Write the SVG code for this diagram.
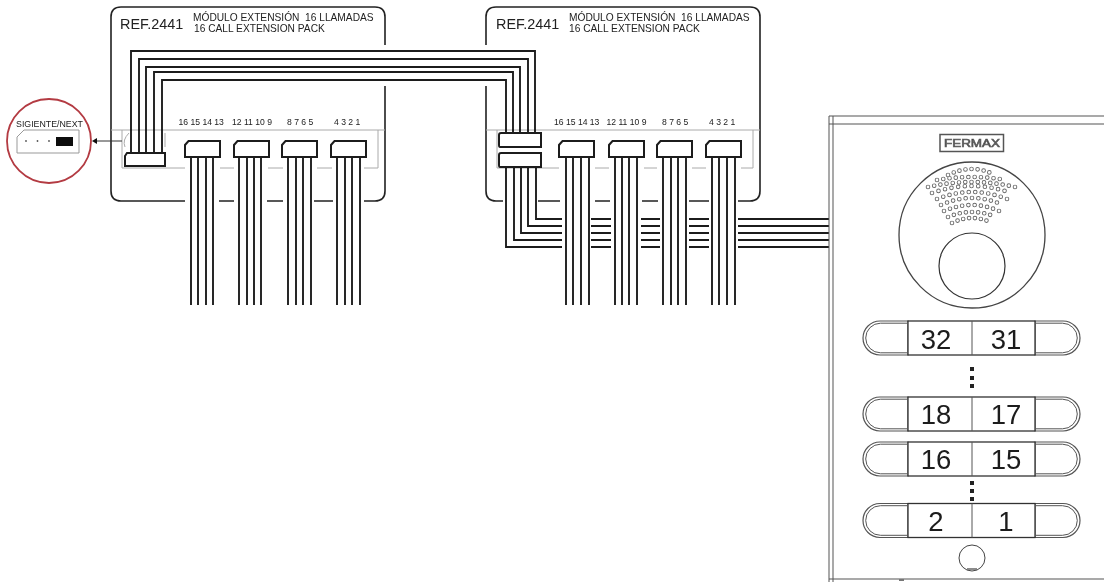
<svg xmlns="http://www.w3.org/2000/svg" width="1104" height="582" viewBox="0 0 1104 582">
<style>
text{font-family:"Liberation Sans",Arial,sans-serif;fill:#222;white-space:pre}
.o{fill:none;stroke:#222;stroke-width:1.6}
.g{fill:none;stroke:#aaa;stroke-width:1}
.w{fill:none;stroke:#1c1c1c;stroke-width:1.9}
.c{fill:#fff;stroke:#1c1c1c;stroke-width:2}
.p{fill:none;stroke:#555;stroke-width:1}
.ref{font-size:14.4px}.sub{font-size:10.2px}.n{font-size:8.6px}.b{font-size:27.5px;text-anchor:middle;fill:#1a1a1a}
.l{fill:#fff;stroke:#333;stroke-width:1.3}
.pill{fill:#fff;stroke:#555;stroke-width:1.2}
.pi{fill:none;stroke:#555;stroke-width:1}
.d{fill:#222}
</style>
<defs>
<filter id="s" x="0" y="0" width="1104" height="582" filterUnits="userSpaceOnUse"><feGaussianBlur stdDeviation="0.35"/></filter>
<path id="conn" d="M3.5 0H35V16H0V4Z"/>
<g id="btn">
<path class="pill" d="M45 0H17A17 17 0 0 0 17 34H45Z"/><path class="pi" d="M44 2.2H17.5A14.8 14.8 0 0 0 17.5 31.8H44"/>
<path class="pill" d="M172 0H200A17 17 0 0 1 200 34H172Z"/><path class="pi" d="M173 2.2H199.5A14.8 14.8 0 0 1 199.5 31.8H173"/>
<rect class="l" x="45" y="0" width="127" height="34"/><path class="p" d="M109 0V34"/>
</g>
<g id="gr">
<path d="M948 175Q972 163 995 175" pathLength="8"/>
<path d="M937 180Q972 174 1006 180" pathLength="11"/>
<path d="M928 187Q972 177 1015 187" pathLength="14"/>
<path d="M932 193Q972 179 1011 193" pathLength="12"/>
<path d="M937 199Q972 185 1007 199" pathLength="11"/>
<path d="M941 205Q972 191 1003 205" pathLength="10"/>
<path d="M944 211Q972 199 999 211" pathLength="9"/>
<path d="M948 217Q972 207 996 217" pathLength="8"/>
<path d="M952 223Q972 213 992 223" pathLength="7"/>
</g>
</defs>
<g filter="url(#s)">
<g id="module-left">
<path class="o" d="M111 45V17Q111 7 121 7H375Q385 7 385 17V45M385 86V191Q385 201 375 201H364M333 201H314M283 201H267M234 201H219M185 201H121Q111 201 111 191V45"/>
<path class="g" d="M111 130H385M122 130V168H185M220 168H234M268 168H283M317 168H332M364 168H378V130M125 147Q122 140 129 133M165 133V147"/>
<text class="ref" x="120" y="29">REF.2441</text>
<text class="sub" x="193" y="21">MÓDULO EXTENSIÓN  16 LLAMADAS</text>
<text class="sub" x="194" y="31.500">16 CALL EXTENSION PACK</text>
<text class="n" x="178.500" y="125">16 15 14 13</text><text class="n" x="232" y="125">12 11 10 9</text><text class="n" x="287" y="125">8 7 6 5</text><text class="n" x="334" y="125">4 3 2 1</text>
</g>
<g id="module-right">
<path class="o" d="M486 45V17Q486 7 496 7H750Q760 7 760 17V191Q760 201 750 201H738M709 201H689M658 201H642M610 201H595M560 201H538M503 201H496Q486 201 486 191V86"/>
<path class="g" d="M486 130H760M497 130V168H559M595 168H609M644 168H657M692 168H706M741 168H753V130"/>
<text class="ref" x="496" y="29">REF.2441</text>
<text class="sub" x="569" y="21">MÓDULO EXTENSIÓN  16 LLAMADAS</text>
<text class="sub" x="569" y="31.500">16 CALL EXTENSION PACK</text>
<text class="n" x="554" y="125">16 15 14 13</text><text class="n" x="606.500" y="125">12 11 10 9</text><text class="n" x="662" y="125">8 7 6 5</text><text class="n" x="709" y="125">4 3 2 1</text>
</g>
<g id="connectors">
<path class="w" d="M131 153V51H535V133M139 153V59H528V133M146 153V67H520V133M154 153V72H513V133M162 153V80H506V133"/>
<path class="w" d="M191 157V305M198 157V305M206 157V305M213 157V305M239 157V305M247 157V305M254 157V305M261 157V305M288 157V305M296 157V305M303 157V305M311 157V305M337 157V305M345 157V305M352 157V305M360 157V305"/>
<path class="w" d="M566 157V305M573 157V305M581 157V305M589 157V305M615 157V305M622 157V305M629 157V305M637 157V305M663 157V305M671 157V305M678 157V305M686 157V305M712 157V305M719 157V305M727 157V305M735 157V305"/>
<path class="w" d="M536 167V219H562M528 167V226H562M521 167V233H562M514 167V240H562M506 167V247H562"/>
<path class="w" d="M591 219H611M641 219H660M689 219H709M738 219H829M591 226H611M641 226H660M689 226H709M738 226H829M591 233H611M641 233H660M689 233H709M738 233H829M591 240H611M641 240H660M689 240H709M738 240H829M591 247H611M641 247H660M689 247H709M738 247H829"/>
<path d="M122 141H96" fill="none" stroke="#333" stroke-width="1"/><path d="M92 141L97 138V144Z" fill="#111"/>
<use href="#conn" class="c" x="185" y="141"/><use href="#conn" class="c" x="234" y="141"/><use href="#conn" class="c" x="282" y="141"/><use href="#conn" class="c" x="331" y="141"/>
<use href="#conn" class="c" x="559" y="141"/><use href="#conn" class="c" x="609" y="141"/><use href="#conn" class="c" x="657" y="141"/><use href="#conn" class="c" x="706" y="141"/>
<path class="c" d="M127 153H165V166H125V156Z"/>
<path class="c" d="M501 133H541V147H500Q499 147 499 145V135Q499 133 501 133Z"/>
<path class="c" d="M501 153H541V167H500Q499 167 499 165V155Q499 153 501 153Z"/>
</g>
<g id="detail">
<circle cx="49" cy="141" r="42" fill="#fff" stroke="#b33a42" stroke-width="1.8"/>
<path d="M24 130H79V153H17V137Z" fill="#fff" stroke="#999" stroke-width="1"/>
<rect x="56" y="137" width="17" height="9" fill="#0a0a0a"/>
<circle cx="26" cy="141" r=".9" fill="#555"/><circle cx="37.500" cy="141" r=".9" fill="#555"/><circle cx="49" cy="141" r=".9" fill="#555"/>
<text x="49.500" y="127" font-size="8.800" text-anchor="middle">SIGIENTE/NEXT</text>
</g>
<g id="panel">
<path d="M829 116V582M833 116V582M829 116H1104M829 124H1104M829 579H1104" fill="none" stroke="#555" stroke-width="1"/>
<path d="M899 580H904" stroke="#777" stroke-width="2"/>
<rect x="940" y="134.500" width="63.500" height="17" fill="#fff" stroke="#555" stroke-width="1.500"/>
<text x="972" y="147" font-size="11" text-anchor="middle" fill="#fff" stroke="#666" stroke-width=".7" textLength="56" lengthAdjust="spacingAndGlyphs">FERMAX</text>
<circle cx="972" cy="235" r="73" fill="#fff" stroke="#444" stroke-width="1.300"/>
<circle cx="972" cy="266" r="33" fill="#fff" stroke="#333" stroke-width="1.200"/>
<use href="#gr" fill="none" stroke="#666" stroke-width="4.600" stroke-linecap="round" stroke-dasharray="0 1"/>
<use href="#gr" fill="none" stroke="#fff" stroke-width="2.800" stroke-linecap="round" stroke-dasharray="0 1"/>
<circle cx="972" cy="558" r="13" fill="#fff" stroke="#444" stroke-width="1"/>
<path d="M967 569H977" stroke="#666" stroke-width="1.500"/>
</g>
<g id="btn-32"><use href="#btn" x="863" y="321"/><text class="b" x="936" y="349">32</text><text class="b" x="1006" y="349">31</text></g>
<g id="btn-18"><use href="#btn" x="863" y="397"/><text class="b" x="936" y="423.500">18</text><text class="b" x="1006" y="423.500">17</text></g>
<g id="btn-16"><use href="#btn" x="863" y="442"/><text class="b" x="936" y="468.500">16</text><text class="b" x="1006" y="468.500">15</text></g>
<g id="btn-2"><use href="#btn" x="863" y="503.500"/><text class="b" x="936" y="530.500">2</text><text class="b" x="1006" y="530.500">1</text></g>
<g id="dots">
<rect class="d" x="970" y="367" width="4" height="4"/><rect class="d" x="970" y="376" width="4" height="4"/><rect class="d" x="970" y="384" width="4" height="4"/>
<rect class="d" x="970" y="481" width="4" height="4"/><rect class="d" x="970" y="489" width="4" height="4"/><rect class="d" x="970" y="497" width="4" height="4"/>
</g>
</g>
</svg>
